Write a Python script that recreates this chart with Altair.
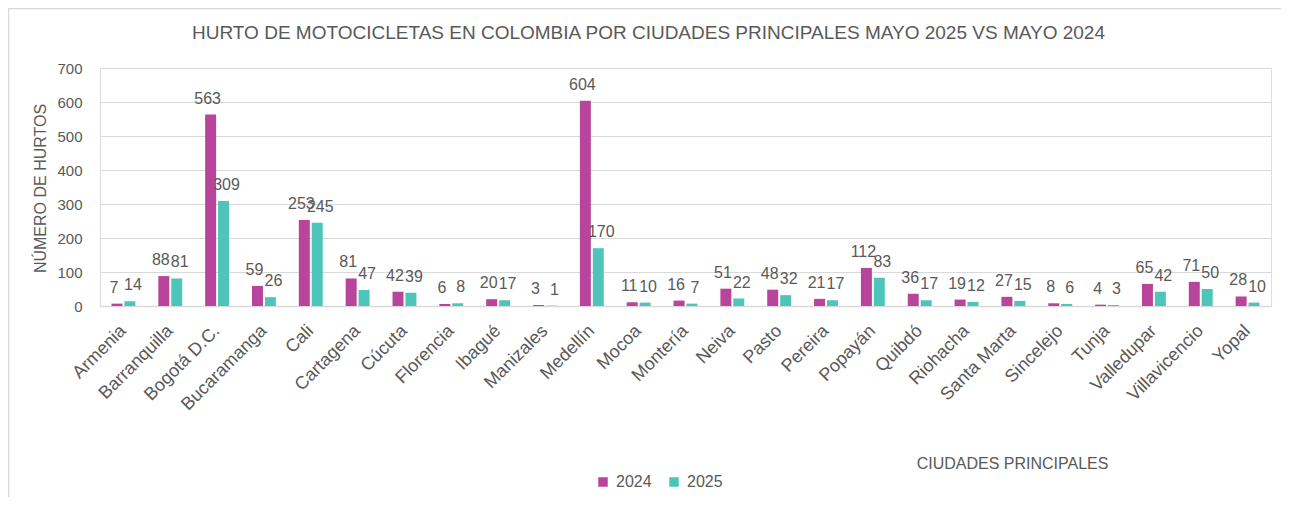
import altair as alt
import pandas as pd

cities = ["Armenia", "Barranquilla", "Bogotá D.C.", "Bucaramanga", "Cali", "Cartagena",
          "Cúcuta", "Florencia", "Ibagué", "Manizales", "Medellín", "Mocoa", "Montería",
          "Neiva", "Pasto", "Pereira", "Popayán", "Quibdó", "Riohacha", "Santa Marta",
          "Sincelejo", "Tunja", "Valledupar", "Villavicencio", "Yopal"]
v2024 = [7, 88, 563, 59, 253, 81, 42, 6, 20, 3, 604, 11, 16, 51, 48, 21, 112, 36, 19, 27, 8, 4, 65, 71, 28]
v2025 = [14, 81, 309, 26, 245, 47, 39, 8, 17, 1, 170, 10, 7, 22, 32, 17, 83, 17, 12, 15, 6, 3, 42, 50, 10]
years = ["2024", "2025"]
colors = ["#B9449B", "#4EC5BA"]
y_ticks = [0, 100, 200, 300, 400, 500, 600, 700]

rows = []
for c, a, b in zip(cities, v2024, v2025):
    rows.append({"ciudad": c, "year": years[0], "value": a})
    rows.append({"ciudad": c, "year": years[1], "value": b})
df = pd.DataFrame(rows)

FONT = "Liberation Sans"
GRAY = "#595959"

base = alt.Chart(df).encode(
    x=alt.X("ciudad:N", sort=cities,
            scale=alt.Scale(paddingInner=0.49, paddingOuter=0.245),
            axis=alt.Axis(title="CIUDADES PRINCIPALES", labelAngle=-45, labelAlign="right",
                          labelBaseline="middle", labelPadding=22, labelFontSize=18,
                          labelFont=FONT, labelColor=GRAY, ticks=False,
                          domainColor="#D9D9D9", domainWidth=1.5,
                          titleFont=FONT, titleFontSize=16, titleFontWeight="normal",
                          titleColor=GRAY, titleX=912, titleY=157, titleAlign="center",
                          titleBaseline="middle")),
    xOffset=alt.XOffset("year:N", sort=years,
                        scale=alt.Scale(paddingInner=0.15, paddingOuter=0)),
    y=alt.Y("value:Q", scale=alt.Scale(domain=[0, 700]),
            axis=alt.Axis(values=y_ticks, title="NÚMERO DE HURTOS", ticks=False, domain=False,
                          labelFont=FONT, labelFontSize=15, labelColor=GRAY, labelPadding=18,
                          gridColor="#D9D9D9", gridWidth=1,
                          titleFont=FONT, titleFontSize=16, titleFontWeight="normal",
                          titleColor=GRAY, titleX=-60, titleY=120, titleAlign="center",
                          titleBaseline="middle", titleAngle=-90)),
)

bars = base.mark_bar().encode(
    color=alt.Color("year:N", sort=years,
                    scale=alt.Scale(domain=years, range=colors),
                    legend=alt.Legend(title=None, orient="none", direction="horizontal",
                                      legendX=495, legendY=406, symbolType="square",
                                      symbolSize=90, symbolStrokeWidth=0,
                                      labelFont=FONT, labelFontSize=16, labelColor=GRAY,
                                      columnPadding=14, padding=0, labelOffset=5))
)

labels_a = base.transform_filter(alt.datum.year == years[0]).mark_text(
    baseline="bottom", dy=-8, dx=-3, fontSize=16, font=FONT, color=GRAY
).encode(text="value:Q")
labels_b = base.transform_filter(alt.datum.year == years[1]).mark_text(
    baseline="bottom", dy=-8, dx=3, fontSize=16, font=FONT, color=GRAY
).encode(text="value:Q")

frame_src = alt.Chart(pd.DataFrame({"k": [0]}))
frame_top = frame_src.mark_rule(color="#D9D9D9", strokeWidth=1.5).encode(
    x=alt.value(-92), x2=alt.value(1181), y=alt.value(-59.5)
)
frame_left = frame_src.mark_rule(color="#D9D9D9", strokeWidth=1.5).encode(
    x=alt.value(-91.5), y=alt.value(-60), y2=alt.value(440)
)

chart = alt.layer(frame_top, frame_left, bars, labels_a, labels_b).properties(
    width=1171, height=238,
    title=alt.TitleParams(
        "HURTO DE MOTOCICLETAS EN COLOMBIA POR CIUDADES PRINCIPALES MAYO 2025 VS MAYO 2024",
        font=FONT, fontSize=19, fontWeight="normal", color=GRAY,
        anchor="middle", dx=-37, offset=-36, frame="group"),
    autosize=alt.AutoSizeParams(type="none"),
    padding={"left": 92, "top": 60, "right": 10, "bottom": 191},
).configure_view(stroke=None).configure(background="white")

chart.save("out.html", embed_options={"renderer": "svg", "actions": False})
